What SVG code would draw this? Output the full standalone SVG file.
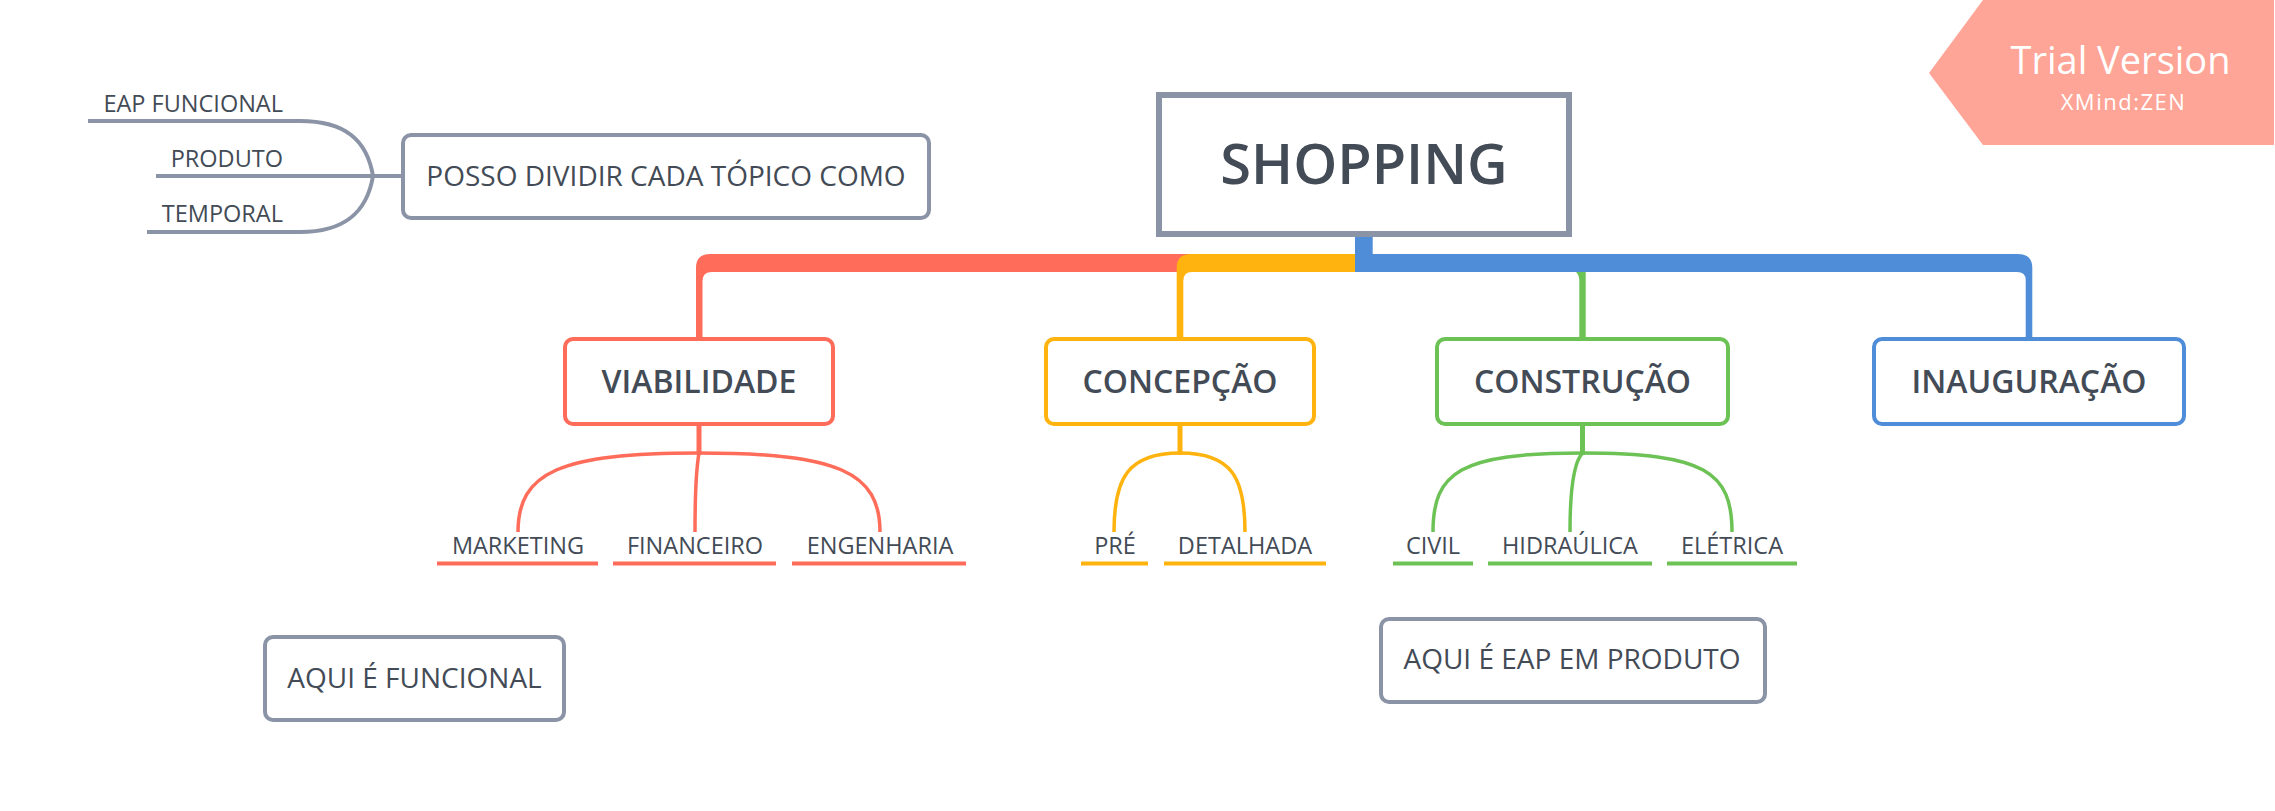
<svg xmlns="http://www.w3.org/2000/svg" width="2275" height="811" viewBox="0 0 2275 811">
<style>
.t{font-family:"Open Sans","Liberation Sans",sans-serif;fill:#434B56;text-anchor:middle}
.main{font-size:32px;font-weight:600}
.sub{font-size:23.5px}
.note{font-size:28px}
.box{fill:#fff;stroke-width:4}
.g{stroke:#8A94A6}
.r{stroke:#FF6C5A}
.y{stroke:#FFB30F}
.gr{stroke:#6CC255}
.b{stroke:#508DD8}
.ln{fill:none;stroke-linecap:butt}
</style>
<rect width="2275" height="811" fill="#fff"/>

<g id="connectors">
  <!-- main branches -->
  <path d="M696 337 L696 268 Q696 254 710 254 L1200 254 L1200 272 L712 272 Q702.5 272 702.5 281 L702.5 337 Z" fill="#FF6C5A"/>
  <path d="M1176.7 337 L1176.7 268 Q1176.7 254 1190.7 254 L1364 254 L1364 272 L1192 272 Q1183.3 272 1183.3 281 L1183.3 337 Z" fill="#FFB30F"/>
  <path d="M1579.3 337 L1579.3 281 Q1579.3 270 1569 270 L1585.7 270 L1585.7 337 Z" fill="#6CC255"/>
  <path d="M1355 236 L1372.7 236 L1372.7 254 L2018 254 Q2032.3 254 2032.3 268 L2032.3 337 L2025.7 337 L2025.7 280 Q2025.7 272 2017 272 L1355 272 Z" fill="#508DD8"/>

  <!-- VIABILIDADE children -->
  <g class="ln r">
    <line x1="699" y1="424" x2="699" y2="455" stroke-width="5"/>
    <path d="M699 453 C560 453 518 472 518 532" stroke-width="3.5"/>
    <path d="M699 453 C838 453 880 472 880 532" stroke-width="3.5"/>
    <path d="M699 453 C696 470 695 490 695 532" stroke-width="3.5"/>
    <line x1="437" y1="563.5" x2="598" y2="563.5" stroke-width="4"/>
    <line x1="613" y1="563.5" x2="776" y2="563.5" stroke-width="4"/>
    <line x1="792" y1="563.5" x2="966" y2="563.5" stroke-width="4"/>
  </g>
  <!-- CONCEPÇÃO children -->
  <g class="ln y">
    <line x1="1180" y1="424" x2="1180" y2="455" stroke-width="5"/>
    <path d="M1180 453 C1128 453 1114 478 1114 532" stroke-width="3.5"/>
    <path d="M1180 453 C1232 453 1245 478 1245 532" stroke-width="3.5"/>
    <line x1="1081" y1="563.5" x2="1148" y2="563.5" stroke-width="4"/>
    <line x1="1164" y1="563.5" x2="1326" y2="563.5" stroke-width="4"/>
  </g>
  <!-- CONSTRUÇÃO children -->
  <g class="ln gr">
    <line x1="1582.5" y1="424" x2="1582.5" y2="455" stroke-width="5"/>
    <path d="M1582.5 453 C1460 453 1433 472 1433 532" stroke-width="3.5"/>
    <path d="M1582.5 453 C1705 453 1732 472 1732 532" stroke-width="3.5"/>
    <path d="M1582.5 453 C1574 462 1570 490 1570 532" stroke-width="3.5"/>
    <line x1="1393" y1="563.5" x2="1473" y2="563.5" stroke-width="4"/>
    <line x1="1488" y1="563.5" x2="1652" y2="563.5" stroke-width="4"/>
    <line x1="1667" y1="563.5" x2="1797" y2="563.5" stroke-width="4"/>
  </g>
  <!-- POSSO DIVIDIR children -->
  <g class="ln g" stroke-width="4">
    <path d="M403 176 L156 176"/>
    <path d="M373 176 C367 140 345 121 300 121 L88 121"/>
    <path d="M373 176 C367 212 345 232 300 232 L147 232"/>
  </g>
</g>

<g id="node-shopping">
  <rect x="1159" y="95" width="410" height="139" fill="#fff" stroke="#8A94A6" stroke-width="6"/>
  <text class="t" x="1364" y="184" font-size="56" font-weight="600">SHOPPING</text>
</g>

<g id="node-viabilidade">
  <rect class="box r" x="565" y="339" width="268" height="85" rx="8"/>
  <text class="t main" x="699" y="393">VIABILIDADE</text>
</g>
<g id="node-concepcao">
  <rect class="box y" x="1046" y="339" width="268" height="85" rx="8"/>
  <text class="t main" x="1180" y="393">CONCEPÇÃO</text>
</g>
<g id="node-construcao">
  <rect class="box gr" x="1437" y="339" width="291" height="85" rx="8"/>
  <text class="t main" x="1582.5" y="393">CONSTRUÇÃO</text>
</g>
<g id="node-inauguracao">
  <rect class="box b" x="1874" y="339" width="310" height="85" rx="8"/>
  <text class="t main" x="2029" y="393">INAUGURAÇÃO</text>
</g>

<g id="node-marketing"><text class="t sub" x="518" y="554">MARKETING</text></g>
<g id="node-financeiro"><text class="t sub" x="695" y="554">FINANCEIRO</text></g>
<g id="node-engenharia"><text class="t sub" x="880" y="554">ENGENHARIA</text></g>
<g id="node-pre"><text class="t sub" x="1115" y="554">PRÉ</text></g>
<g id="node-detalhada"><text class="t sub" x="1245" y="554">DETALHADA</text></g>
<g id="node-civil"><text class="t sub" x="1433" y="554">CIVIL</text></g>
<g id="node-hidraulica"><text class="t sub" x="1570" y="554">HIDRAÚLICA</text></g>
<g id="node-eletrica"><text class="t sub" x="1732" y="554">ELÉTRICA</text></g>

<g id="node-posso">
  <rect class="box g" x="403" y="135" width="526" height="83" rx="8"/>
  <text class="t note" x="666" y="186">POSSO DIVIDIR CADA TÓPICO COMO</text>
</g>
<g id="node-eap-funcional"><text class="t sub" x="283" y="111.7" style="text-anchor:end">EAP FUNCIONAL</text></g>
<g id="node-produto"><text class="t sub" x="283" y="166.7" style="text-anchor:end">PRODUTO</text></g>
<g id="node-temporal"><text class="t sub" x="283" y="221.7" style="text-anchor:end">TEMPORAL</text></g>

<g id="node-aqui-funcional">
  <rect class="box g" x="265" y="637" width="299" height="83" rx="8"/>
  <text class="t note" x="414.5" y="688">AQUI É FUNCIONAL</text>
</g>
<g id="node-aqui-produto">
  <rect class="box g" x="1381" y="619" width="384" height="83" rx="8"/>
  <text class="t note" x="1572" y="669">AQUI É EAP EM PRODUTO</text>
</g>

<g id="badge">
  <polygon points="1929,73 1983,0 2274,0 2274,145 1983,145" fill="#FEA597"/>
  <text x="2120.5" y="74" font-family="Open Sans, Liberation Sans, sans-serif" font-size="38" fill="#fff" text-anchor="middle">Trial Version</text>
  <text x="2123.5" y="110" font-family="Open Sans, Liberation Sans, sans-serif" font-size="22" fill="#fff" text-anchor="middle" letter-spacing="1.5">XMind:ZEN</text>
</g>
</svg>
